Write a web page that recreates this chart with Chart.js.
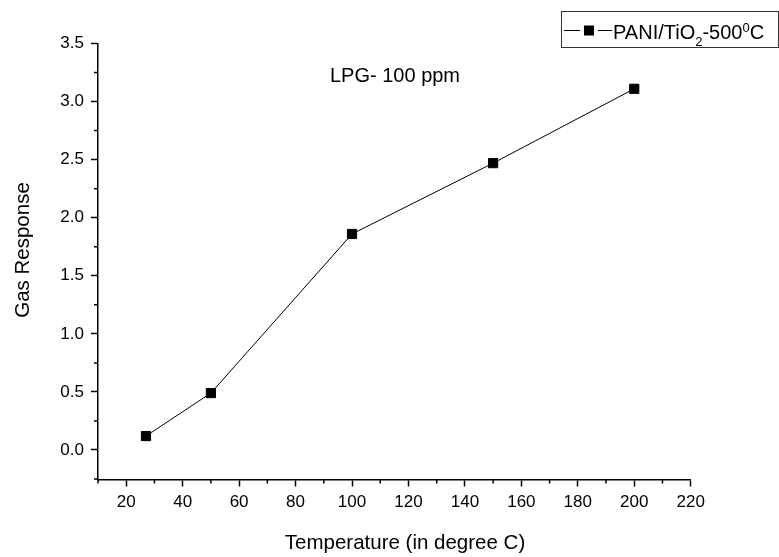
<!DOCTYPE html>
<html>
<head>
<meta charset="utf-8">
<script src="https://cdn.jsdelivr.net/npm/chart.js@4"></script>
<style>
  html, body { margin: 0; padding: 0; background: #fff; }
  #wrap { width: 779px; height: 557px; }
</style>
</head>
<body>
<div id="wrap"><canvas id="gasChart"></canvas></div>
<script>
const temps = [27, 50, 100, 150, 200];
const response = [0.12, 0.49, 1.86, 2.47, 3.11];
const xTicks = [20, 40, 60, 80, 100, 120, 140, 160, 180, 200, 220];
const yTicks = [0, 0.5, 1.0, 1.5, 2.0, 2.5, 3.0, 3.5];
const xMinor = [10, 30, 50, 70, 90, 110, 130, 150, 170, 190, 210];
const yMinor = [-0.25, 0.25, 0.75, 1.25, 1.75, 2.25, 2.75, 3.25];

const FONT = '"Liberation Sans", Arial, sans-serif';

// minor ticks, title, axis titles and the boxed legend
const extras = {
    id: 'extras',
    afterDraw(chart) {
        const ctx = chart.ctx;
        const xs = chart.scales.x, ys = chart.scales.y;
        const area = chart.chartArea;
        ctx.save();
        ctx.strokeStyle = '#000';
        ctx.lineWidth = 1.5;
        ctx.beginPath();
        xMinor.forEach(v => {
            const px = xs.getPixelForValue(v);
            ctx.moveTo(px, area.bottom);
            ctx.lineTo(px, area.bottom + 4);
        });
        yMinor.forEach(v => {
            const py = ys.getPixelForValue(v);
            ctx.moveTo(area.left, py);
            ctx.lineTo(area.left - 4, py);
        });
        ctx.stroke();

        ctx.fillStyle = '#000';
        ctx.font = '20px ' + FONT;
        ctx.textAlign = 'center';
        ctx.textBaseline = 'middle';
        ctx.fillText('LPG- 100 ppm', 395, 76);
        ctx.font = '20.5px ' + FONT;
        ctx.fillText('Temperature (in degree C)', 405, 543);
        ctx.save();
        ctx.translate(23, 250);
        ctx.rotate(-Math.PI / 2);
        ctx.fillText('Gas Response', 0, 0);
        ctx.restore();

        // legend
        ctx.lineWidth = 1;
        ctx.strokeStyle = '#333';
        ctx.strokeRect(561.5, 11.5, 217, 36);
        ctx.strokeStyle = '#000';
        ctx.beginPath();
        ctx.moveTo(564, 30.5);
        ctx.lineTo(580, 30.5);
        ctx.moveTo(598, 30.5);
        ctx.lineTo(612, 30.5);
        ctx.stroke();
        ctx.fillRect(584, 25.5, 10, 10);

        ctx.textAlign = 'left';
        ctx.textBaseline = 'alphabetic';
        const base = 38.5;
        let x = 613;
        const parts = [
            ['PANI/TiO', 20, 0],
            ['2', 13, 7],
            ['-500', 20, 0],
            ['0', 13, -7],
            ['C', 20, 0]
        ];
        parts.forEach(p => {
            ctx.font = p[1] + 'px ' + FONT;
            ctx.fillText(p[0], x, base + p[2]);
            x += ctx.measureText(p[0]).width;
        });
        ctx.restore();
    }
};

const ctxGas = document.getElementById('gasChart').getContext('2d');

const gasChart = new Chart(ctxGas, {
    type: 'scatter',
    data: {
        datasets: [{
            label: 'PANI/TiO2-500°C',
            data: temps.map((t, i) => ({ x: t, y: response[i] })),
            showLine: true,
            borderColor: '#000',
            borderWidth: 1,
            backgroundColor: '#000',
            pointStyle: 'rect',
            pointRadius: 6.5,
            pointBorderWidth: 1,
            pointBorderColor: '#000',
            pointBackgroundColor: '#000'
        }]
    },
    options: {
        responsive: true,
        maintainAspectRatio: false,
        animation: false,
        layout: { padding: { top: 43.5, right: 88.3, bottom: 0, left: 0 } },
        plugins: {
            legend: { display: false },
            tooltip: { enabled: false }
        },
        scales: {
            x: {
                type: 'linear',
                min: 10,
                max: 220,
                afterBuildTicks: s => { s.ticks = xTicks.map(v => ({ value: v })); },
                afterFit: s => { s.height = 77.5; },
                grid: { drawOnChartArea: false, drawTicks: true, tickLength: 7, tickColor: '#000', tickWidth: 1.5 },
                border: { display: true, color: '#000', width: 1.5 },
                ticks: { color: '#000', font: { family: FONT, size: 17 }, padding: 6, maxRotation: 0, autoSkip: false }
            },
            y: {
                type: 'linear',
                min: -0.254,
                max: 3.5,
                afterBuildTicks: s => { s.ticks = yTicks.map(v => ({ value: v })); },
                afterFit: s => { s.width = 98; },
                grid: { drawOnChartArea: false, drawTicks: true, tickLength: 7, tickColor: '#000', tickWidth: 1.5 },
                border: { display: true, color: '#000', width: 1.5 },
                ticks: {
                    color: '#000',
                    font: { family: FONT, size: 17 },
                    padding: 7,
                    autoSkip: false,
                    callback: v => v.toFixed(1)
                }
            }
        }
    },
    plugins: [extras]
});
</script>
</body>
</html>
